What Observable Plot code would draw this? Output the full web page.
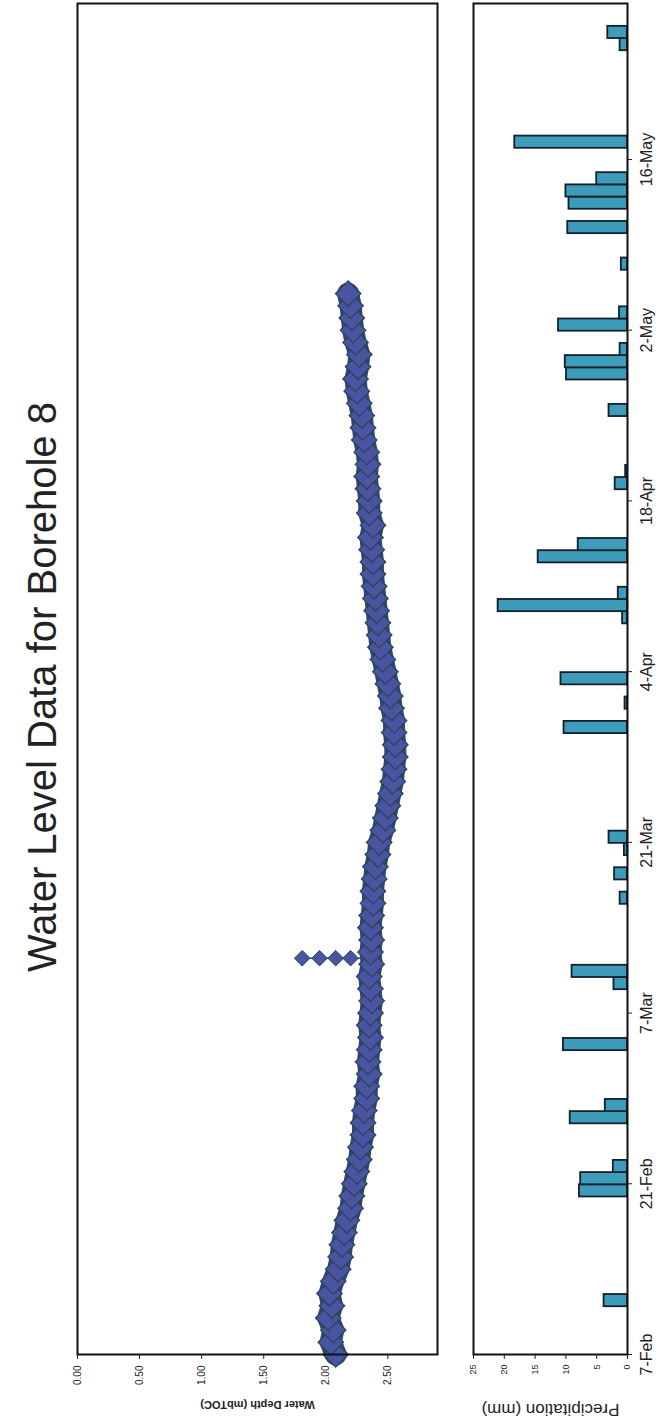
<!DOCTYPE html>
<html>
<head>
<meta charset="utf-8">
<script src="https://cdn.jsdelivr.net/npm/d3@7"></script>
<script src="https://cdn.jsdelivr.net/npm/@observablehq/plot@0.6"></script>
<style>
html, body { margin: 0; padding: 0; background: #fff; }
#page { position: relative; width: 664px; height: 1427px; overflow: hidden; background: #fff; }
#rot { position: absolute; left: 0; top: 0; width: 1427px; height: 664px;
  transform-origin: 0 0; transform: translate(0px, 1427px) rotate(-90deg);
  font-family: "Liberation Sans", Arial, sans-serif; }
#title { position: absolute; left: 340px; width: 800px; top: 20px; line-height: 44px;
  text-align: center; font-size: 40px; color: #222; white-space: nowrap; }
#upper { position: absolute; left: 0; top: 65px; }
#lower { position: absolute; left: 0; top: 455px; }
</style>
</head>
<body>
<div id="page"><div id="rot">
  <div id="title">Water Level Data for Borehole 8</div>
  <div id="upper"></div>
  <div id="lower"></div>
</div></div>
<script>
// ---- data ----
const startDate = "2009-02-07";
const endDate = "2009-05-28T19:00";
const dateTicks = ["2009-02-07","2009-02-21","2009-03-07","2009-03-21","2009-04-04","2009-04-18","2009-05-02","2009-05-16"];
const depthTicks = [0, 0.5, 1, 1.5, 2, 2.5];
const precipTicks = [0, 5, 10, 15, 20, 25];

// daily water depth (mbTOC), one value per day from 7-Feb
const depthValues = [
  2.08,2.04,2.06,2.02,2.05,2.03,2.06,2.10,2.12,2.13,
  2.15,2.17,2.20,2.21,2.23,2.25,2.27,2.28,2.30,2.30,
  2.31,2.33,2.33,2.35,2.34,2.35,2.36,2.35,2.36,2.37,
  2.36,2.35,2.37,2.36,2.37,2.36,2.37,2.38,2.38,2.39,
  2.40,2.42,2.43,2.46,2.48,2.50,2.52,2.54,2.55,2.56,
  2.56,2.55,2.55,2.53,2.52,2.50,2.48,2.46,2.44,2.43,
  2.42,2.41,2.40,2.39,2.38,2.38,2.37,2.36,2.38,2.35,
  2.35,2.34,2.33,2.34,2.33,2.31,2.30,2.29,2.27,2.25,
  2.24,2.26,2.27,2.24,2.22,2.21,2.20,2.18
];
// short-lived spike readings
const spikeDates = ["2009-03-11T12:00","2009-03-11T12:00","2009-03-11T12:00","2009-03-11T12:00"];
const spikeDepths = [2.20, 2.08, 1.95, 1.81];

const precipDates = ["2009-02-11","2009-02-20","2009-02-21","2009-02-22","2009-02-26","2009-02-27",
  "2009-03-04","2009-03-09","2009-03-10","2009-03-16","2009-03-18","2009-03-20","2009-03-21",
  "2009-03-30","2009-04-01","2009-04-03","2009-04-08","2009-04-09","2009-04-10","2009-04-13","2009-04-14",
  "2009-04-19","2009-04-20","2009-04-25","2009-04-28","2009-04-29","2009-04-30","2009-05-02","2009-05-03",
  "2009-05-07","2009-05-10","2009-05-12","2009-05-13","2009-05-14","2009-05-17","2009-05-25","2009-05-26"];
const precipValues = [3.8,7.8,7.6,2.3,9.3,3.6,
  10.4,2.2,9.0,1.2,2.1,0.5,3.0,
  10.3,0.4,10.8,0.8,21.0,1.5,14.5,8.0,
  2.0,0.3,3.0,9.9,10.1,1.2,11.2,1.3,
  1.0,9.7,9.5,10.0,5.0,18.3,1.2,3.2];

// ---- build tables ----
const t0 = new Date(startDate);
const xDomain = [t0, new Date(endDate)];
const ticks = dateTicks.map(d => new Date(d));
const depthData = depthValues.map((v, i) => ({date: d3.utcDay.offset(t0, i), depth: v}));
const spikeData = spikeDates.map((d, i) => ({date: new Date(d), depth: spikeDepths[i]}));
const spikeLine = [{date: spikeData[0].date, depth: 2.34}, ...spikeData];
const precipData = precipDates.map((d, i) => ({date: new Date(d), mm: precipValues[i]}));

const font = "Liberation Sans, Arial, sans-serif";
const W = 1427;

const upper = Plot.plot({
  width: W, height: 385,
  marginLeft: 72, marginRight: 4, marginTop: 12, marginBottom: 13,
  style: {fontFamily: font, background: "transparent", color: "#222", overflow: "visible"},
  x: {type: "utc", domain: xDomain},
  y: {domain: [0, 2.9], reverse: true},
  marks: [
    Plot.axisY({ticks: depthTicks, tickFormat: d3.format(".2f"), tickSize: 4, tickPadding: 7, fontSize: 10, label: null}),
    Plot.axisX({ticks: [], label: null}),
    Plot.line(spikeLine, {x: "date", y: "depth", stroke: "#2c3f6a", strokeWidth: 1.5}),
    Plot.line(depthData, {x: "date", y: "depth", stroke: "#34466f", strokeWidth: 22, strokeLinecap: "round", strokeLinejoin: "round"}),
    Plot.dot(depthData, {x: "date", y: "depth", symbol: "diamond2", r: 11.5, fill: "#4a54a0", stroke: "#27445a", strokeWidth: 1.2}),
    Plot.dot(spikeData, {x: "date", y: "depth", symbol: "diamond2", r: 7, fill: "#4a54a0", stroke: "#27445a", strokeWidth: 1}),
    Plot.frame({stroke: "#111", strokeWidth: 2}),
    Plot.text(["Water Depth (mbTOC)"], {text: d => d, frameAnchor: "left", textAnchor: "middle", dx: -50, rotate: -90, fontSize: 11, fontWeight: "bold", fill: "#222"})
  ]
});
document.getElementById("upper").appendChild(upper);

const lower = Plot.plot({
  width: W, height: 209,
  marginLeft: 72, marginRight: 4, marginTop: 18, marginBottom: 37,
  style: {fontFamily: font, background: "transparent", color: "#222", overflow: "visible"},
  x: {type: "utc", domain: xDomain},
  y: {domain: [0, 25]},
  marks: [
    Plot.axisY({ticks: precipTicks, tickSize: 4, tickPadding: 6, fontSize: 9, label: null}),
    Plot.axisX({ticks: ticks, tickFormat: d3.utcFormat("%-d-%b"), tickSize: 5, tickPadding: 8, fontSize: 16, label: null}),
    Plot.rectY(precipData, {x: "date", y: "mm", interval: "day", fill: "#3c9cba", stroke: "#14202c", strokeWidth: 1.8, inset: 0}),
    Plot.frame({stroke: "#111", strokeWidth: 2}),
    Plot.text(["Precipitation (mm)"], {text: d => d, frameAnchor: "left", textAnchor: "middle", dx: -55, rotate: -90, fontSize: 17, fill: "#222"})
  ]
});
document.getElementById("lower").appendChild(lower);
</script>
</body>
</html>
